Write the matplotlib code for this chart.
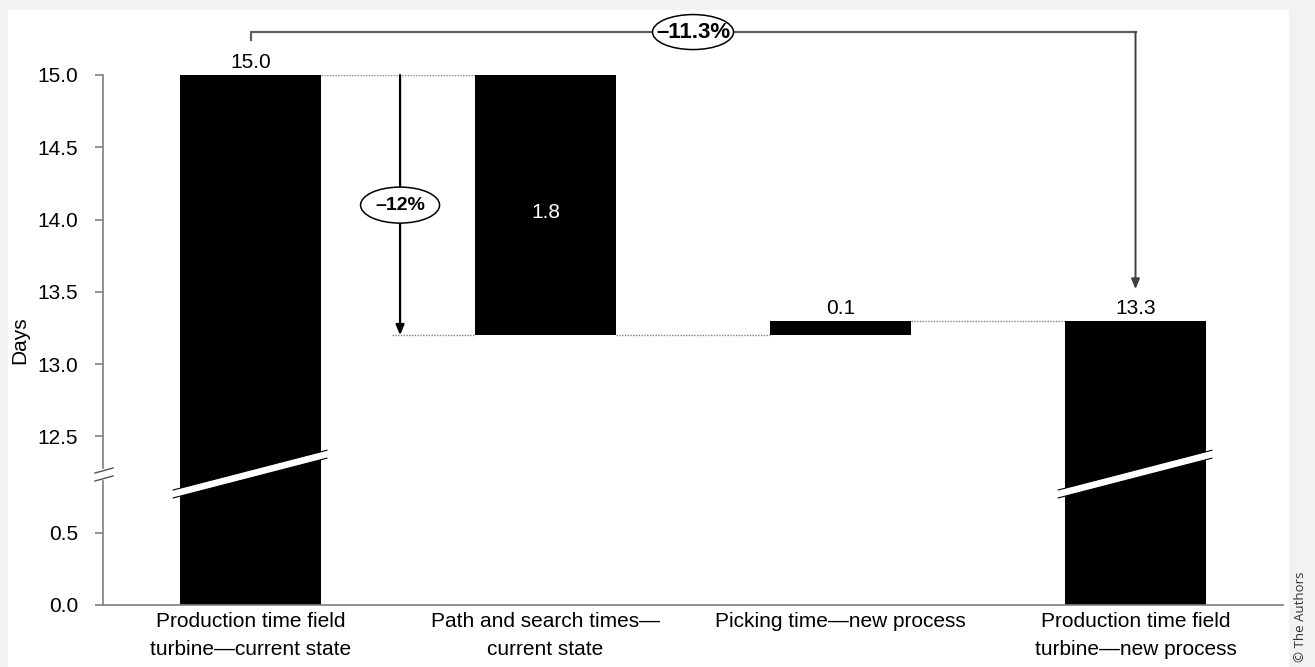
import matplotlib
matplotlib.use('Agg')
import matplotlib.pyplot as plt
import matplotlib.transforms as mtransforms
from matplotlib.patches import Rectangle, Polygon, Ellipse
import numpy as np

plt.rcParams['font.family'] = ['Liberation Sans', 'DejaVu Sans']

# data
categories = ['Production time field\nturbine\u2014current state',
              'Path and search times\u2014\ncurrent state',
              'Picking time\u2014new process',
              'Production time field\nturbine\u2014new process']
start_days = 15.0
path_search_saving = 1.8
picking_added = 0.1
end_days = 13.3
total_change = '\u201311.3%'
path_change = '\u201312%'
yticks = [0.0, 0.5, 12.5, 13.0, 13.5, 14.0, 14.5, 15.0]

# broken y axis: 0..0.85 kept, 0.85..12.25 squeezed, rest shifted down
LO, HI, SHIFT = 0.85, 12.25, 11.3333


def fwd(v):
    v = np.asarray(v, dtype=float)
    mid = LO + (v - LO) * (HI - SHIFT - LO) / (HI - LO)
    return np.where(v <= LO, v, np.where(v >= HI, v - SHIFT, mid))


def inv(y):
    y = np.asarray(y, dtype=float)
    mid = LO + (y - LO) * (HI - LO) / (HI - SHIFT - LO)
    return np.where(y <= LO, y, np.where(y >= HI - SHIFT, y + SHIFT, mid))


W, H = 1315, 667
fig = plt.figure(figsize=(W / 100, H / 100), dpi=100, facecolor='#f2f2f2')
fig.patches.append(Rectangle((8 / W, 0), 1281 / W, 657 / H, transform=fig.transFigure,
                             facecolor='white', edgecolor='none', zorder=-5))
ax = fig.add_axes([103 / W, 62 / H, 1180 / W, 530 / H])
ax.set_facecolor('none')
ax.set_yscale('function', functions=(fwd, inv))

bw = 0.48
x = np.arange(len(categories))
mid_level = start_days - path_search_saving
bottoms = [0, mid_level, mid_level, 0]
heights = [start_days, path_search_saving, picking_added, end_days]
ax.bar(x, heights, bottom=bottoms, width=bw, color='black', zorder=2)

ax.set_xlim(-0.5, 3.5)
ax.set_ylim(0, 15.0)
ax.set_yticks(yticks)
ax.set_yticklabels([f'{t:.1f}' for t in yticks], fontsize=15)
ax.yaxis.set_minor_locator(matplotlib.ticker.NullLocator())
ax.set_xticks(x)
ax.set_xticklabels(categories, fontsize=15, linespacing=1.6)
ax.tick_params(axis='x', length=0, pad=5)
ax.tick_params(axis='y', length=6, color='#7f7f7f', width=1.2, pad=12)
for s in ['top', 'right']:
    ax.spines[s].set_visible(False)
for s in ['left', 'bottom']:
    ax.spines[s].set_color('#7f7f7f')
    ax.spines[s].set_linewidth(1.2)
ax.set_ylabel('Days', fontsize=15, labelpad=6)

# value labels
lbl = dict(ha='center', va='bottom', fontsize=15, textcoords='offset points', xytext=(0, 2))
ax.annotate(f'{start_days:.1f}', (0, start_days), **lbl)
ax.annotate(f'{picking_added:.1f}', (2, mid_level + picking_added), **lbl)
ax.annotate(f'{end_days:.1f}', (3, end_days), **lbl)
ax.text(1, (start_days + mid_level) / 2 - 0.05, f'{path_search_saving:.1f}', color='white',
        ha='center', va='center', fontsize=15)

# dotted connectors
dot = dict(color='#7f7f7f', linestyle=(0, (1, 1)), linewidth=1, zorder=1)
ax.plot([bw / 2, 1 - bw / 2], [start_days, start_days], **dot)
ax.plot([0.48, 1 - bw / 2], [mid_level, mid_level], **dot)
ax.plot([1 + bw / 2, 2 - bw / 2], [mid_level, mid_level], **dot)
ax.plot([2 + bw / 2, 3 - bw / 2], [end_days, end_days], **dot)


def ellipse_label(xv, yv, text, size, w_in, h_in, trans):
    # ellipse sized in inches, centred on (xv, yv) of the given transform
    t = fig.dpi_scale_trans + mtransforms.ScaledTranslation(xv, yv, trans)
    ax.add_patch(Ellipse((0, 0), w_in, h_in, transform=t, facecolor='white',
                         edgecolor='black', lw=1.1, zorder=4, clip_on=False))
    ax.text(xv, yv, text, transform=trans, ha='center', va='center', fontsize=size,
            fontweight='bold', zorder=5, clip_on=False)


# -12% arrow
ax_x = 0.507
ax.annotate('', xy=(ax_x, mid_level), xytext=(ax_x, start_days),
            arrowprops=dict(arrowstyle='-|>,head_length=0.6,head_width=0.25',
                            color='black', lw=1.6, shrinkA=0, shrinkB=0))
ellipse_label(ax_x, (start_days + mid_level) / 2, path_change, 14, 0.79, 0.36, ax.transData)

# overall change bracket
tr = ax.get_xaxis_transform()
ax.plot([0, 0, 3], [1.066, 1.081, 1.081], transform=tr, color='#606060', lw=1.6,
        clip_on=False, zorder=3)
ax.annotate('', xy=(3, 0.596), xytext=(3, 1.081), xycoords=tr, textcoords=tr,
            arrowprops=dict(arrowstyle='-|>,head_length=0.6,head_width=0.25',
                            color='#404040', lw=1.4, shrinkA=0, shrinkB=0),
            annotation_clip=False)
ellipse_label(1.5, 1.081, total_change, 16, 0.81, 0.35, tr)

# white break stripes through the tall bars
for xc in [0, 3]:
    xl, xr = xc - 0.262, xc + 0.259
    ax.add_patch(Polygon([(xl, 0.202), (xr, 0.277), (xr, 0.292), (xl, 0.217)],
                         closed=True, transform=tr, facecolor='white',
                         edgecolor='none', zorder=3, clip_on=False))
    for y0, y1 in [(0.202, 0.277), (0.217, 0.292)]:
        ax.plot([xl, xr], [y0, y1], transform=tr, color='black', lw=0.8,
                zorder=3, clip_on=False)

# break marks on the y axis
ax.plot([0, 0], [0.240, 0.252], transform=ax.transAxes, color='white', lw=3,
        clip_on=False, zorder=5)
for y0, y1 in [(0.234, 0.2434), (0.249, 0.2585)]:
    ax.plot([-0.0068, 0.0085], [y0, y1], transform=ax.transAxes, color='#555555',
            lw=1, clip_on=False, zorder=6)

fig.text(1301 / W, 1 - 617 / H, '\u00a9 The Authors', rotation=90, ha='center', va='center',
         fontsize=9.5, color='#333333', family=['Open Sans', 'DejaVu Sans'])

fig.savefig('out.png', dpi=100, facecolor=fig.get_facecolor())
